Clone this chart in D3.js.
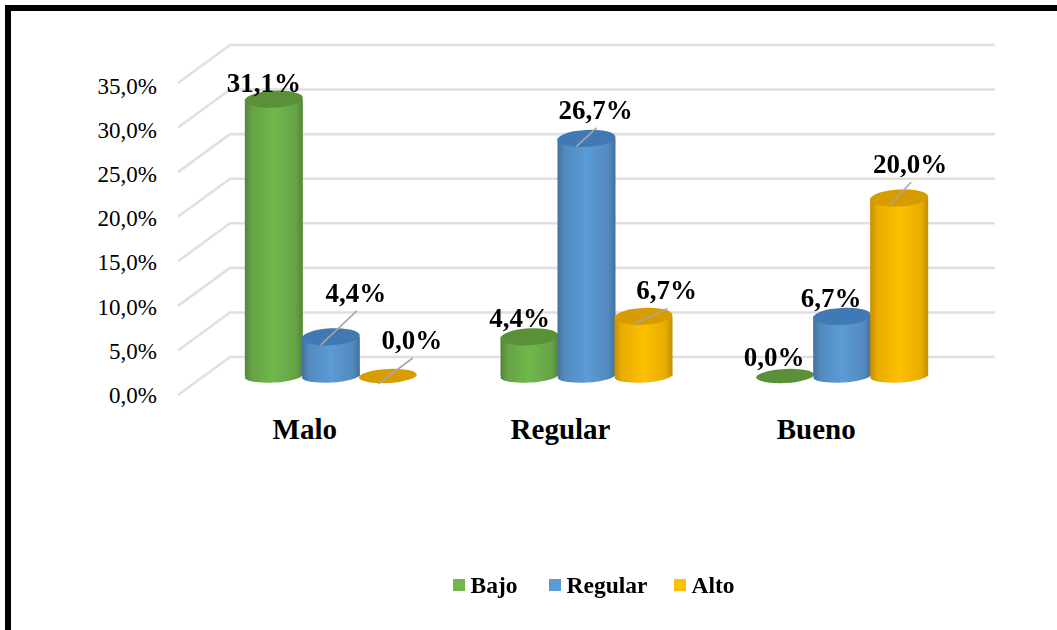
<!DOCTYPE html>
<html><head><meta charset="utf-8">
<style>html,body{margin:0;padding:0;background:#fff;overflow:hidden}svg{display:block}text{font-family:"Liberation Serif",serif;fill:#000}</style>
<script src="https://cdn.jsdelivr.net/npm/d3@7"></script></head>
<body><svg id="c" width="1057" height="630"></svg>
<script>
const categories = ["Malo","Regular","Bueno"];
const seriesNames = ["Bajo","Regular","Alto"];
const bajo = [31.1,4.4,0.0];
const regular = [4.4,26.7,6.7];
const alto = [0.0,6.7,20.0];
const tickValues = [0,5,10,15,20,25,30,35];
const colors = ["#70b84c","#5b9bd5","#ffc000"];
const edge = ["#55843a","#44709c","#c48f00"];
const topFill = ["#5a9138","#4079b3","#d69c00"];
const series = [bajo,regular,alto];
const fmt = v => v.toFixed(1).replace(".",",")+"%";

const svg = d3.select("#c");
const defs = svg.append("defs");
colors.forEach((c,i)=>{
  const g = defs.append("linearGradient").attr("id","g"+i);
  [[0,edge[i]],[0.12,d3.interpolateRgb(edge[i],c)(0.6)],[0.5,c],[0.88,d3.interpolateRgb(edge[i],c)(0.6)],[1,edge[i]]]
    .forEach(s=>g.append("stop").attr("offset",s[0]).attr("stop-color",s[1]));
});
defs.append("filter").attr("id","soft").append("feGaussianBlur").attr("stdDeviation",0.7);

// frame
svg.append("path").attr("d","M8,630V8H1057").attr("fill","none").attr("stroke","#000").attr("stroke-width",6);

// scales
const yBack = d3.scaleLinear().domain([0,35]).range([357,45]);
const yFront = d3.scaleLinear().domain([0,35]).range([395,86]);
const yBar = d3.scaleLinear().domain([0,35]).range([376,64.5]);
const xCat = d3.scaleBand().domain(categories).range([203,970]);
const xSer = d3.scaleBand().domain(d3.range(3)).range([0,171]);

// walls
const grid = svg.append("g").attr("filter","url(#soft)").attr("stroke","#e0e0e0").attr("stroke-width",2.6).attr("fill","none");
tickValues.forEach(v=>{
  grid.append("path").attr("d",`M178,${yBack(v)+38}L230,${yBack(v)}H995`);
});

// y axis
const axis = svg.append("g").attr("transform","translate(157,0)")
  .call(d3.axisLeft(yFront).tickValues(tickValues).tickFormat(fmt).tickSize(0).tickPadding(0));
axis.select(".domain").remove();
axis.selectAll("text").style("font-family",'"Liberation Serif",serif').style("font-size","23px").attr("fill","#000");

// category labels
svg.append("g").selectAll("text").data(categories).join("text")
  .attr("x",d=>xCat(d)+xCat.bandwidth()/2-26).attr("y",439)
  .attr("text-anchor","middle").attr("font-size",29).attr("font-weight","bold").text(d=>d);

// cylinders
const rx=29, ry=8.5, tilt=-3;
const marks=[];
series.forEach((vals,s)=>vals.forEach((v,c)=>marks.push({s,c,v,
  cx:xCat(categories[c])+xCat.bandwidth()/2-85.5+xSer(s)+xSer.bandwidth()/2})));
const bars=svg.append("g").attr("filter","url(#soft)");
marks.forEach(m=>{
  const yTop=yBar(m.v), yBase=yBar(0);
  if(m.v>0){
    bars.append("ellipse").attr("transform",`translate(${m.cx},${yBase}) rotate(${tilt})`)
      .attr("rx",rx).attr("ry",6.5).attr("fill",`url(#g${m.s})`);
    bars.append("rect").attr("x",m.cx-rx).attr("y",yTop).attr("width",rx*2).attr("height",yBase-yTop)
      .attr("fill",`url(#g${m.s})`);
  }
  bars.append("ellipse").attr("transform",`translate(${m.cx},${yTop}) rotate(${tilt})`)
    .attr("rx",rx).attr("ry",m.v>0?ry:7).attr("fill",topFill[m.s]);
});

// leader lines and data labels: label offset from the top centre of each bar, keyed series-category
const labelOffset = {
  "0-0":[-10,-7,0],"0-1":[-10,-10,0],"0-2":[-11,-10,0],
  "1-0":[25,-35,1],"1-1":[9,-19.5,1],"1-2":[-11,-9,0],
  "2-0":[24,-27,1],"2-1":[23,-17,1],"2-2":[11,-25,1]
};
const lbl=svg.append("g");
marks.forEach(m=>{
  const o=labelOffset[m.s+"-"+m.c], yTop=yBar(m.v), lx=m.cx+o[0], ly=yTop+o[1];
  if(o[2]) lbl.append("line").attr("x1",m.cx-10).attr("y1",yTop+8).attr("x2",lx+1).attr("y2",ly+9)
    .attr("stroke","#a6a6a6").attr("stroke-width",1.6);
  lbl.append("text").attr("x",lx).attr("y",ly).attr("text-anchor","middle")
    .attr("font-size",27).attr("font-weight","bold").text(fmt(m.v));
});

// legend
const legendX=[453,549,674], legendW=12;
const leg=svg.append("g");
seriesNames.forEach((n,i)=>{
  leg.append("rect").attr("x",legendX[i]).attr("y",579).attr("width",legendW).attr("height",12).attr("fill",colors[i]);
  leg.append("text").attr("x",legendX[i]+legendW+5.5).attr("y",593).attr("font-size",23.5).attr("font-weight","bold").text(n);
});
</script></body></html>
